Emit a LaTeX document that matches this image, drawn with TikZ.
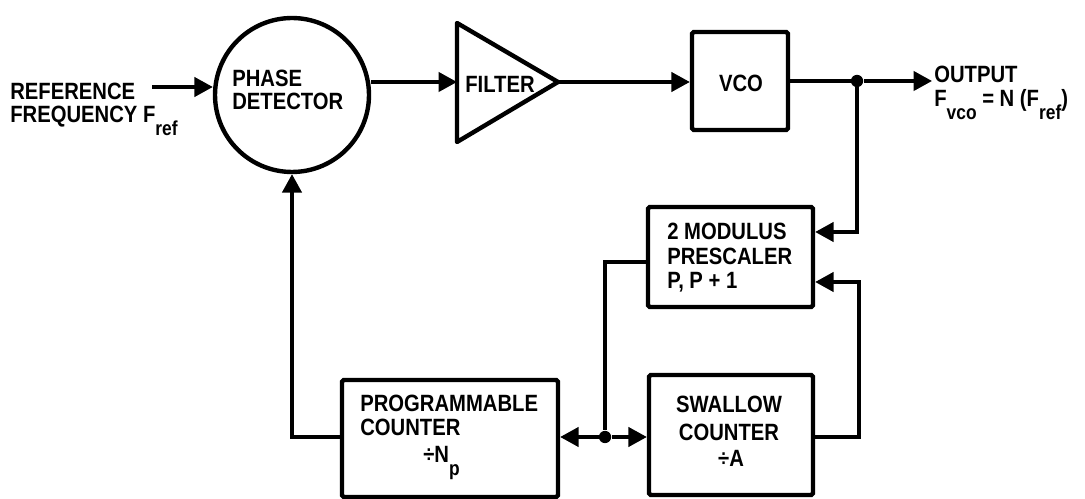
\documentclass[tikz,border=0pt]{standalone}
\usepackage{fontspec}
\setmainfont{Liberation Sans}[FakeStretch=0.86]
\usetikzlibrary{arrows.meta}
\newcommand{\lowsub}[1]{\raisebox{-7pt}{\fontsize{11.5}{12}\selectfont #1}}
\begin{document}
\begin{tikzpicture}[x=0.02cm,y=-0.02cm,
  font=\bfseries\fontsize{13.4}{14}\selectfont,
  wire/.style={line width=1.9pt},
  arr/.style={wire,-{Triangle[length=10.5pt,width=11pt]}},
  blk/.style={draw,line width=2.5pt,rounded corners=1pt,inner sep=0pt},
  lbl/.style={inner sep=0pt,anchor=base west},
  clbl/.style={inner sep=0pt,anchor=base},
  jdot/.style={circle,fill,inner sep=0pt,minimum size=7pt}]
\useasboundingbox (0,0) rectangle (1085,499);

% blocks
\node[draw,circle,line width=2.5pt,minimum size=3.08cm,inner sep=0pt] (pd) at (292,95) {};
\node[lbl] (pdt1) at (232,87) {PHASE};
\node[lbl] (pdt2) at (232,110) {DETECTOR};
\coordinate (fa) at (457,23);
\coordinate (fb) at (457,142);
\coordinate (ftip) at (558,82);
\coordinate (fin) at (457,82);
\draw[line width=2.5pt,line join=round] (fa) -- (ftip) -- (fb) -- cycle;
\node[lbl] (ft) at (465,92.5) {FILTER};
\node[blk,minimum width=1.92cm,minimum height=1.96cm] (vco) at (740,81) {};
\node[clbl] (vcot) at (741,92) {VCO};
\node[blk,minimum width=3.3cm,minimum height=2cm] (pre) at (730.5,257) {};
\node[lbl] (pret1) at (667,240) {2 MODULUS};
\node[lbl] (pret2) at (667,265) {PRESCALER};
\node[lbl] (pret3) at (667,289) {P, P + 1};
\node[blk,minimum width=3.28cm,minimum height=2.4cm] (sw) at (731,435) {};
\node[clbl] (swt1) at (729,413) {SWALLOW};
\node[clbl] (swt2) at (729,441) {COUNTER};
\node[clbl] (swt3) at (731,467) {÷A};
\node[blk,minimum width=4.32cm,minimum height=2.34cm] (pc) at (450,438.5) {};
\node[lbl] (pct1) at (360,412) {PROGRAMMABLE};
\node[lbl] (pct2) at (360,436) {COUNTER};
\node[lbl] (pcn) at (423,463) {÷N\lowsub{p}};

% texts
\node[lbl] (ref1) at (10,100) {REFERENCE};
\node[lbl] (ref2) at (10,123) {FREQUENCY F\lowsub{ref}};
\node[lbl] (outt) at (934,83) {OUTPUT};
\node[lbl] (outf) at (934,107) {F\lowsub{vco} = N (F\lowsub{ref})};

% junctions and corners
\node[jdot] (j1) at (857,81) {};
\node[jdot] (j2) at (605,437) {};
\coordinate (refin) at (152,87);
\coordinate (outend) at (932,81);
\coordinate (c1) at (857,232);
\coordinate (c2) at (859,437);
\coordinate (c3) at (859,282);
\coordinate (c4) at (605,262);
\coordinate (c5) at (292,437);

% connectors
\draw[arr] (refin) -- (refin -| pd.west);
\draw[arr] (pd.east |- fin) -- (fin);
\draw[arr] (ftip) -- (vco.west |- ftip);
\draw[wire] (vco.east) -- (j1);
\draw[arr] (j1) -- (outend);
\draw[arr] (j1) -- (c1) -- (c1 -| pre.east);
\draw[arr] (sw.east |- c2) -- (c2) -- (c3) -- (c3 -| pre.east);
\draw[wire] (pre.west |- c4) -- (c4) -- (j2);
\draw[arr] (j2) -- (pc.east |- j2);
\draw[arr] (j2) -- (sw.west |- j2);
\draw[arr] (pc.west |- c5) -- (c5) -- (pd.south);
\end{tikzpicture}
\end{document}
